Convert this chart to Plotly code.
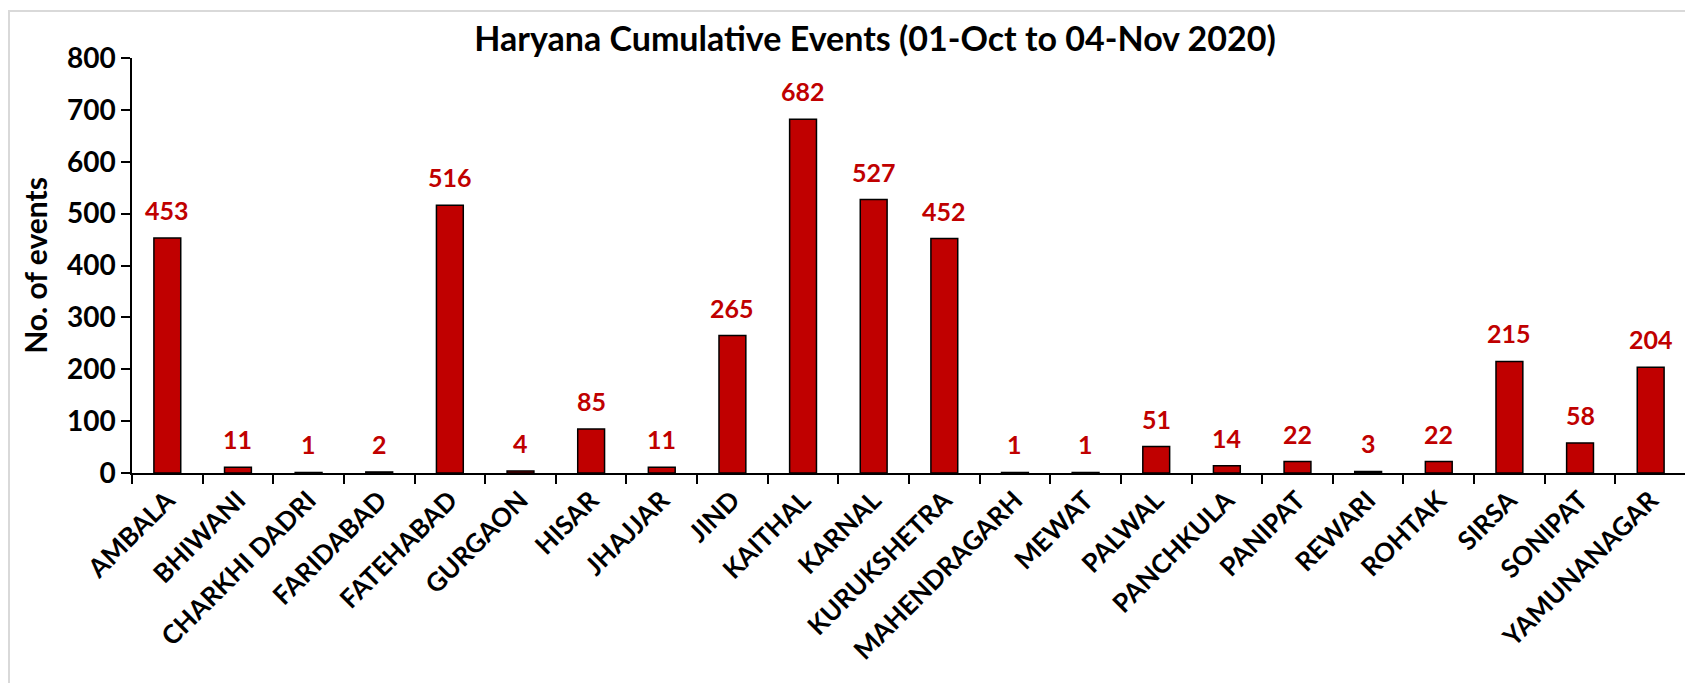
import plotly.graph_objects as go

districts = ["AMBALA", "BHIWANI", "CHARKHI DADRI", "FARIDABAD", "FATEHABAD", "GURGAON",
             "HISAR", "JHAJJAR", "JIND", "KAITHAL", "KARNAL", "KURUKSHETRA",
             "MAHENDRAGARH", "MEWAT", "PALWAL", "PANCHKULA", "PANIPAT", "REWARI",
             "ROHTAK", "SIRSA", "SONIPAT", "YAMUNANAGAR"]
events = [453, 11, 1, 2, 516, 4, 85, 11, 265, 682, 527, 452,
          1, 1, 51, 14, 22, 3, 22, 215, 58, 204]
y_ticks = [0, 100, 200, 300, 400, 500, 600, 700, 800]

RED = "#C00000"
FONT = "Lato, Calibri, sans-serif"

# page body adds an 8px margin, so the figure is a bit smaller than the window
W, H = 1685, 675
L, R, T, B = 124, 7, 50, 210
pw, ph = W - L - R, H - T - B

fig = go.Figure(go.Bar(
    x=districts,
    y=events,
    marker=dict(color=RED, line=dict(color="black", width=1.5)),
    width=0.38,
))

# value labels above each bar
for d, v in zip(districts, events):
    fig.add_annotation(x=d, y=v, text=str(v), showarrow=False,
                       yanchor="bottom", yshift=11,
                       font=dict(family=FONT, size=25, color=RED, weight="bold"))

# light grey chart frame
fig.add_shape(type="rect", xref="paper", yref="paper",
              x0=(1 - L) / pw, x1=1.05, y0=-0.7, y1=(ph + T - 3) / ph,
              line=dict(color="#D9D9D9", width=2), layer="below")

fig.update_layout(
    width=W, height=H,
    margin=dict(l=L, r=R, t=T, b=B),
    paper_bgcolor="white", plot_bgcolor="white",
    font=dict(family=FONT, color="black"),
    title=dict(text="<b>Haryana Cumulative Events (01-Oct to 04-Nov 2020)</b>",
               x=867 / W, xanchor="center", y=1 - 31 / H, yanchor="middle",
               font=dict(family=FONT, size=34, color="black")),
    showlegend=False,
    bargap=0.62,
)

fig.update_xaxes(
    tickangle=-45,
    tickfont=dict(family=FONT, size=26, color="black", weight="bold"),
    showline=True, linecolor="black", linewidth=1.5,
    ticks="outside", ticklen=9, tickcolor="black", tickwidth=1.5,
    tickson="boundaries", showgrid=False, automargin=False,
)
fig.update_yaxes(
    range=[0, 800], tickvals=y_ticks,
    tickfont=dict(family=FONT, size=28, color="black", weight="bold"),
    showline=True, linecolor="black", linewidth=1.5,
    ticks="outside", ticklen=9, tickcolor="black", tickwidth=1.5,
    showgrid=False, zeroline=False, automargin=False,
    title=dict(text="<b>No. of events</b>", font=dict(family=FONT, size=30, color="black"),
               standoff=10),
)

fig.write_html("out.html")
